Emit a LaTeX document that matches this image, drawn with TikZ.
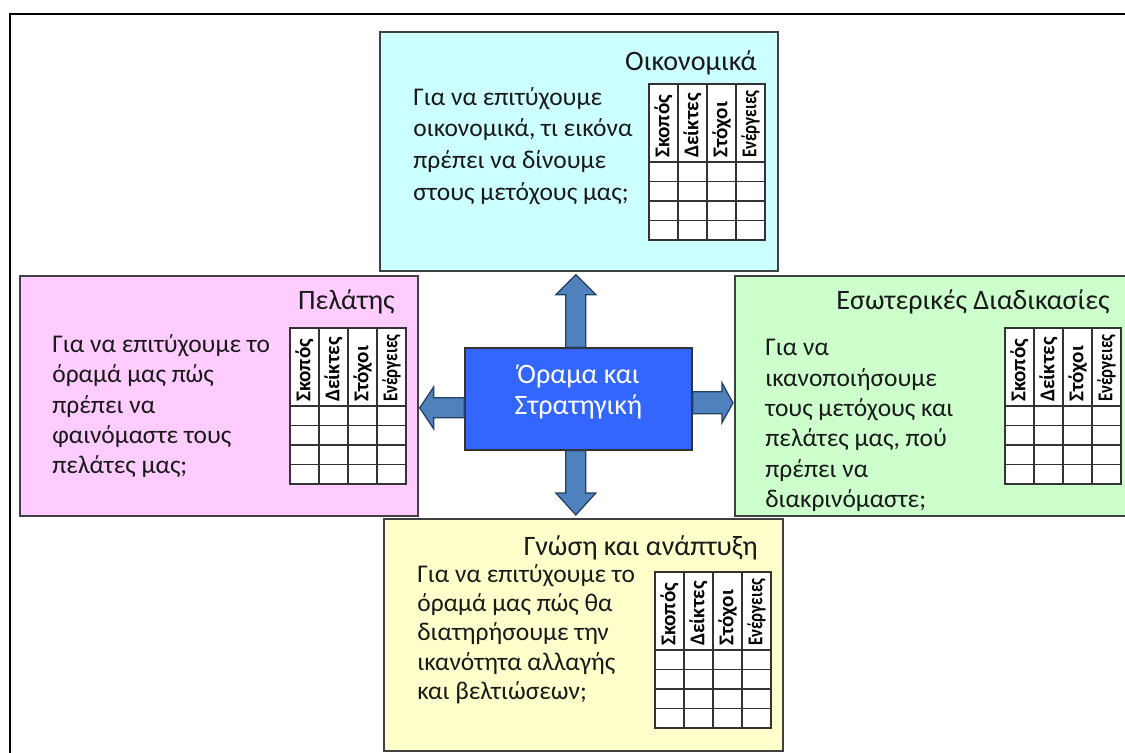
\documentclass[tikz,border=0pt]{standalone}
\usepackage{fontspec}
\setmainfont{Carlito}
\usetikzlibrary{calc}

\definecolor{finblue}{RGB}{204,255,255}
\definecolor{custpink}{RGB}{255,204,255}
\definecolor{procgreen}{RGB}{204,255,204}
\definecolor{learnyellow}{RGB}{255,255,204}
\definecolor{visionblue}{RGB}{51,102,255}
\definecolor{arrowblue}{RGB}{79,129,189}
\definecolor{arrowline}{RGB}{36,64,97}

\tikzset{
  persp/.style={draw=black!75, line width=1pt, anchor=north west, inner sep=0pt},
  visionbox/.style={draw=black!80, line width=0.9pt, fill=visionblue},
  visiontext/.style={text=white, align=center, inner sep=0pt, font=\fontsize{16}{18}\selectfont},
  titletext/.style={anchor=east, inner sep=0pt, text=black!90, font=\fontsize{16}{19}\selectfont},
  bodytext/.style={anchor=north west, align=left, inner sep=0pt, text=black!90,
    font=\fontsize{14.5}{17.3}\selectfont},
  headtext/.style={rotate=90, anchor=west, inner sep=1pt, font=\bfseries\fontsize{12}{14}\selectfont},
  tablegrid/.style={draw=black!80, line width=0.8pt},
  blockarrow/.style={fill=arrowblue, draw=arrowline, line width=0.7pt, line join=miter},
  kpitable/.pic={
    \filldraw[tablegrid, fill=white] (0,0) rectangle (116,156);
    \foreach \i in {1,2,3} \draw[tablegrid] (29*\i,0) -- (29*\i,156);
    \foreach \j in {0,...,3} \draw[tablegrid] (0,78+19.5*\j) -- (116,78+19.5*\j);
    \foreach \lbl [count=\i] in {Σκοπός,Δείκτες,Στόχοι,\scalebox{0.8}[1]{Ενέργειες}}
      \node[headtext] (-h\i) at (29*\i-14.5,76) {\lbl};
  }
}

\begin{document}
\begin{tikzpicture}[x=0.02cm, y=-0.02cm]
  \useasboundingbox (0,0) rectangle (1125,753);
  % outer frame (only top and left edges are in view)
  \draw[black, line width=1.2pt] (10,760) -- (10,14) -- (1130,14);

  % the four perspectives
  \node[persp, fill=finblue, minimum width=7.96cm, minimum height=4.78cm] (fin) at (379,31) {};
  \node[persp, fill=custpink, minimum width=7.96cm, minimum height=4.8cm] (cust) at (19,275) {};
  \node[persp, fill=procgreen, minimum width=8.0cm, minimum height=4.8cm] (proc) at (734,275) {};
  \node[persp, fill=learnyellow, minimum width=7.98cm, minimum height=4.64cm] (learn) at (383,518) {};

  \node[titletext] (fintitle) at (757,63) {Οικονομικά};
  \node[bodytext, font=\fontsize{14.5}{18}\selectfont] (finq) at (413,87)
    {Για να επιτύχουμε\\οικονομικά, τι εικόνα\\πρέπει να δίνουμε\\στους μετόχους μας;};
  \pic (fintab) at (649,84) {kpitable};

  \node[titletext] (custtitle) at (395,302) {Πελάτης};
  \node[bodytext] (custq) at (52,334)
    {Για να επιτύχουμε το\\όραμά μας πώς\\πρέπει να\\φαινόμαστε τους\\πελάτες μας;};
  \pic (custtab) at (290,328) {kpitable};

  \node[titletext] (proctitle) at (1110,302) {Εσωτερικές Διαδικασίες};
  \node[bodytext] (procq) at (765,339)
    {Για να\\ικανοποιήσουμε\\τους μετόχους και\\πελάτες μας, πού\\πρέπει να\\διακρινόμαστε;};
  \pic (proctab) at (1005,328) {kpitable};

  \node[titletext] (learntitle) at (758,548) {Γνώση και ανάπτυξη};
  \node[bodytext, font=\fontsize{14.5}{16.7}\selectfont] (learnq) at (417,564)
    {Για να επιτύχουμε το\\όραμά μας πώς θα\\διατηρήσουμε την\\ικανότητα αλλαγής\\και βελτιώσεων;};
  \pic (learntab) at (655,572) {kpitable};

  % vision in the middle
  \node[visionbox, minimum width=4.54cm, minimum height=2.04cm] (vision) at (578.5,399) {};
  \node[visiontext] (visionlabel) at ($(vision.center)+(0,-7)$) {Όραμα και\\Στρατηγική};

  % block arrows
  \coordinate (uptip) at ($(fin.south)+(-3,3)$);
  \coordinate (upbase) at (uptip |- vision.north);
  \draw[blockarrow] ($(upbase)+(-10,0)$) -- ($(uptip)+(-10,20)$) -- ($(uptip)+(-20,20)$) -- (uptip)
    -- ($(uptip)+(20,20)$) -- ($(uptip)+(10,20)$) -- ($(upbase)+(10,0)$) -- cycle;

  \coordinate (downtip) at ($(learn.north)+(-7.5,-3)$);
  \coordinate (downbase) at (downtip |- vision.south);
  \draw[blockarrow] ($(downbase)+(-10,0)$) -- ($(downtip)+(-10,-22)$) -- ($(downtip)+(-20,-22)$) -- (downtip)
    -- ($(downtip)+(20,-22)$) -- ($(downtip)+(10,-22)$) -- ($(downbase)+(10,0)$) -- cycle;

  \coordinate (lefttip) at ($(cust.east)+(1,12)$);
  \coordinate (leftbase) at (lefttip -| vision.west);
  \draw[blockarrow] ($(leftbase)+(0,-10)$) -- ($(lefttip)+(14,-10)$) -- ($(lefttip)+(14,-21)$) -- (lefttip)
    -- ($(lefttip)+(14,21)$) -- ($(lefttip)+(14,10)$) -- ($(leftbase)+(0,10)$) -- cycle;

  \coordinate (righttip) at ($(proc.west)+(-1,7)$);
  \coordinate (rightbase) at (righttip -| vision.east);
  \draw[blockarrow] ($(rightbase)+(0,-11)$) -- ($(righttip)+(-11,-11)$) -- ($(righttip)+(-11,-20)$) -- (righttip)
    -- ($(righttip)+(-11,20)$) -- ($(righttip)+(-11,11)$) -- ($(rightbase)+(0,11)$) -- cycle;
\end{tikzpicture}
\end{document}
